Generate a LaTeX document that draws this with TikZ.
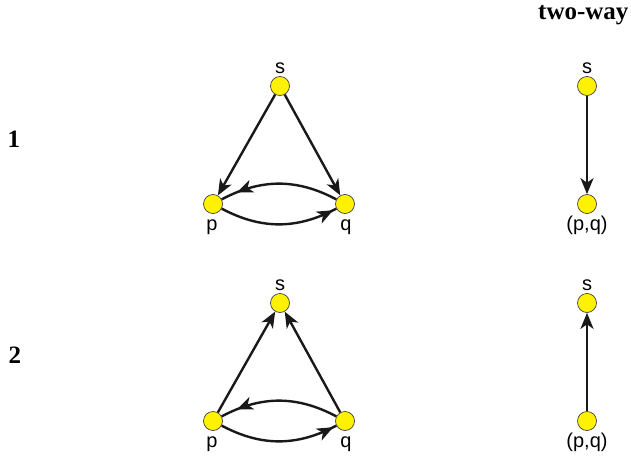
\documentclass[tikz,border=0pt]{standalone}
\usepackage{fontspec}
\setmainfont{Liberation Serif}
\setsansfont{Liberation Sans}
\usetikzlibrary{arrows.meta,decorations.markings}
\begin{document}
\begin{tikzpicture}[x=1pt,y=-1pt,
  vert/.style={circle,fill=yellow,draw=black!75,line width=0.7pt,minimum size=19pt,inner sep=0pt},
  lab/.style={font=\sffamily\fontsize{20}{22}\selectfont,anchor=base,inner sep=0pt},
  rowlab/.style={font=\bfseries\fontsize{25}{28}\selectfont,inner sep=0pt},
  tip/.style={-{Stealth[length=16pt,width=13pt,inset=4.5pt]}},
  edge/.style={line width=2.4pt,black!90,tip},
  markedge/.style={line width=2.4pt,black!90,postaction={decorate},
    decoration={markings,mark=at position #1 with {\arrow{Stealth[length=16pt,width=13pt,inset=4.5pt]}}}}
]
\useasboundingbox (0,0) rectangle (631,460);
% headings
\node[rowlab,anchor=base west] (hdr) at (538,20) {two-way};
\node[rowlab] (r1) at (14,139) {1};
\node[rowlab] (r2) at (15,355) {2};
% row 1 left
\node[vert] (s1) at (280,86) {};
\node[vert] (p1) at (213,204) {};
\node[vert] (q1) at (345,204) {};
\node[lab] (s1l) at (280,73) {s};
\node[lab] (p1l) at (212,230) {p};
\node[lab] (q1l) at (346,230) {q};
\draw[edge] (s1) -- (p1);
\draw[edge] (s1) -- (q1);
\draw[markedge=0.86] (q1) to[bend right=28] (p1);
\draw[markedge=0.97] (p1) to[bend right=28] (q1);
% row 1 right
\node[vert] (s1r) at (587,86) {};
\node[vert] (pq1) at (587,204) {};
\node[lab] (s1rl) at (587,73) {s};
\node[lab] (pq1l) at (587,230) {(p,q)};
\draw[edge] (s1r) -- (pq1);
% row 2 left
\node[vert] (s2) at (280,303) {};
\node[vert] (p2) at (213,421) {};
\node[vert] (q2) at (345,421) {};
\node[lab] (s2l) at (280,290) {s};
\node[lab] (p2l) at (212,447) {p};
\node[lab] (q2l) at (346,447) {q};
\draw[edge] (p2) -- (s2);
\draw[edge] (q2) -- (s2);
\draw[markedge=0.86] (q2) to[bend right=28] (p2);
\draw[markedge=0.97] (p2) to[bend right=28] (q2);
% row 2 right
\node[vert] (s2r) at (587,303) {};
\node[vert] (pq2) at (587,421) {};
\node[lab] (s2rl) at (587,290) {s};
\node[lab] (pq2l) at (587,447) {(p,q)};
\draw[edge] (pq2) -- (s2r);
\end{tikzpicture}
\end{document}
